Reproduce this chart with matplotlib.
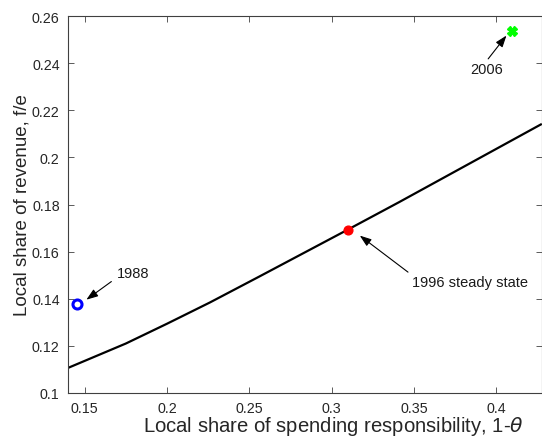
import matplotlib
matplotlib.use("Agg")
import matplotlib.pyplot as plt

# ---- data ----
curve_x = [0.1397, 0.175, 0.200, 0.226, 0.256, 0.310, 0.341, 0.4277]
curve_y = [0.1106, 0.1210, 0.1294, 0.1384, 0.1494, 0.1694, 0.1810, 0.2142]

pt1988 = (0.1452, 0.1378)
pt1996 = (0.3098, 0.1693)
pt2006 = (0.4097, 0.2537)

xticks = [0.15, 0.2, 0.25, 0.3, 0.35, 0.4]
xtick_labels = ["0.15", "0.2", "0.25", "0.3", "0.35", "0.4"]
yticks = [0.1, 0.12, 0.14, 0.16, 0.18, 0.2, 0.22, 0.24, 0.26]
ytick_labels = ["0.1", "0.12", "0.14", "0.16", "0.18", "0.2", "0.22", "0.24", "0.26"]

ann_1988 = dict(text="1988", tip=(0.1510, 0.1396), tail=(0.1662, 0.1473), pos=(0.1694, 0.1510))
ann_1996 = dict(text="1996 steady state", tip=(0.3171, 0.1668), tail=(0.3464, 0.1513), pos=(0.3489, 0.1473))
ann_2006 = dict(text="2006", tip=(0.4062, 0.2517), tail=(0.3951, 0.2418), pos=(0.3845, 0.2373))

# ---- figure ----
plt.rcParams['font.family'] = ['Liberation Sans', 'DejaVu Sans']
W, H = 542, 439
fig = plt.figure(figsize=(W / 100, H / 100), dpi=100)
ax = fig.add_axes([68 / W, (H - 394) / H, (541.5 - 68) / W, (394 - 17) / H])

ax.plot(curve_x, curve_y, color='black', lw=1.6, solid_capstyle='butt', solid_joinstyle='round')
ax.plot(*pt1988, marker='o', ms=6.5, mfc='none', mec='#0000FF', mew=2.2, ls='none')
ax.plot(*pt1996, marker='o', ms=6.3, mfc='#FF0000', mec='#FF0000', ls='none')
ax.plot(*pt2006, marker='X', ms=6.5, mfc='#00FF00', mec='#00FF00', ls='none')

for a in (ann_1988, ann_1996, ann_2006):
    ax.annotate("", xy=a["tip"], xytext=a["tail"],
                arrowprops=dict(arrowstyle="-|>,head_length=0.7,head_width=0.25",
                                color='black', lw=0.8, shrinkA=0, shrinkB=0))
    ax.text(a["pos"][0], a["pos"][1], a["text"], fontsize=10.5, color='#1a1a1a',
            ha='left', va='center')

ax.set_xlim(0.13985, 0.4275)
ax.set_ylim(0.1, 0.26)
ax.set_xticks(xticks)
ax.set_xticklabels(xtick_labels)
ax.set_yticks(yticks)
ax.set_yticklabels(ytick_labels)
ax.tick_params(direction='in', length=4, width=0.6, colors='#404040',
               labelcolor='#262626', labelsize=10.3, top=True, right=True, pad=6)
for s in ax.spines.values():
    s.set_color('#404040')
    s.set_linewidth(0.8)

ax.set_xlabel("Local share of spending responsibility, 1-$\\theta$", fontsize=14.6, color='#262626')
ax.set_ylabel("Local share of revenue, f/e", fontsize=13.5, color='#262626')
ax.xaxis.set_label_coords((333 - 68) / (541.5 - 68), -0.056)
ax.yaxis.set_label_coords(-0.080, 0.5)

fig.savefig("out.png", dpi=100)
